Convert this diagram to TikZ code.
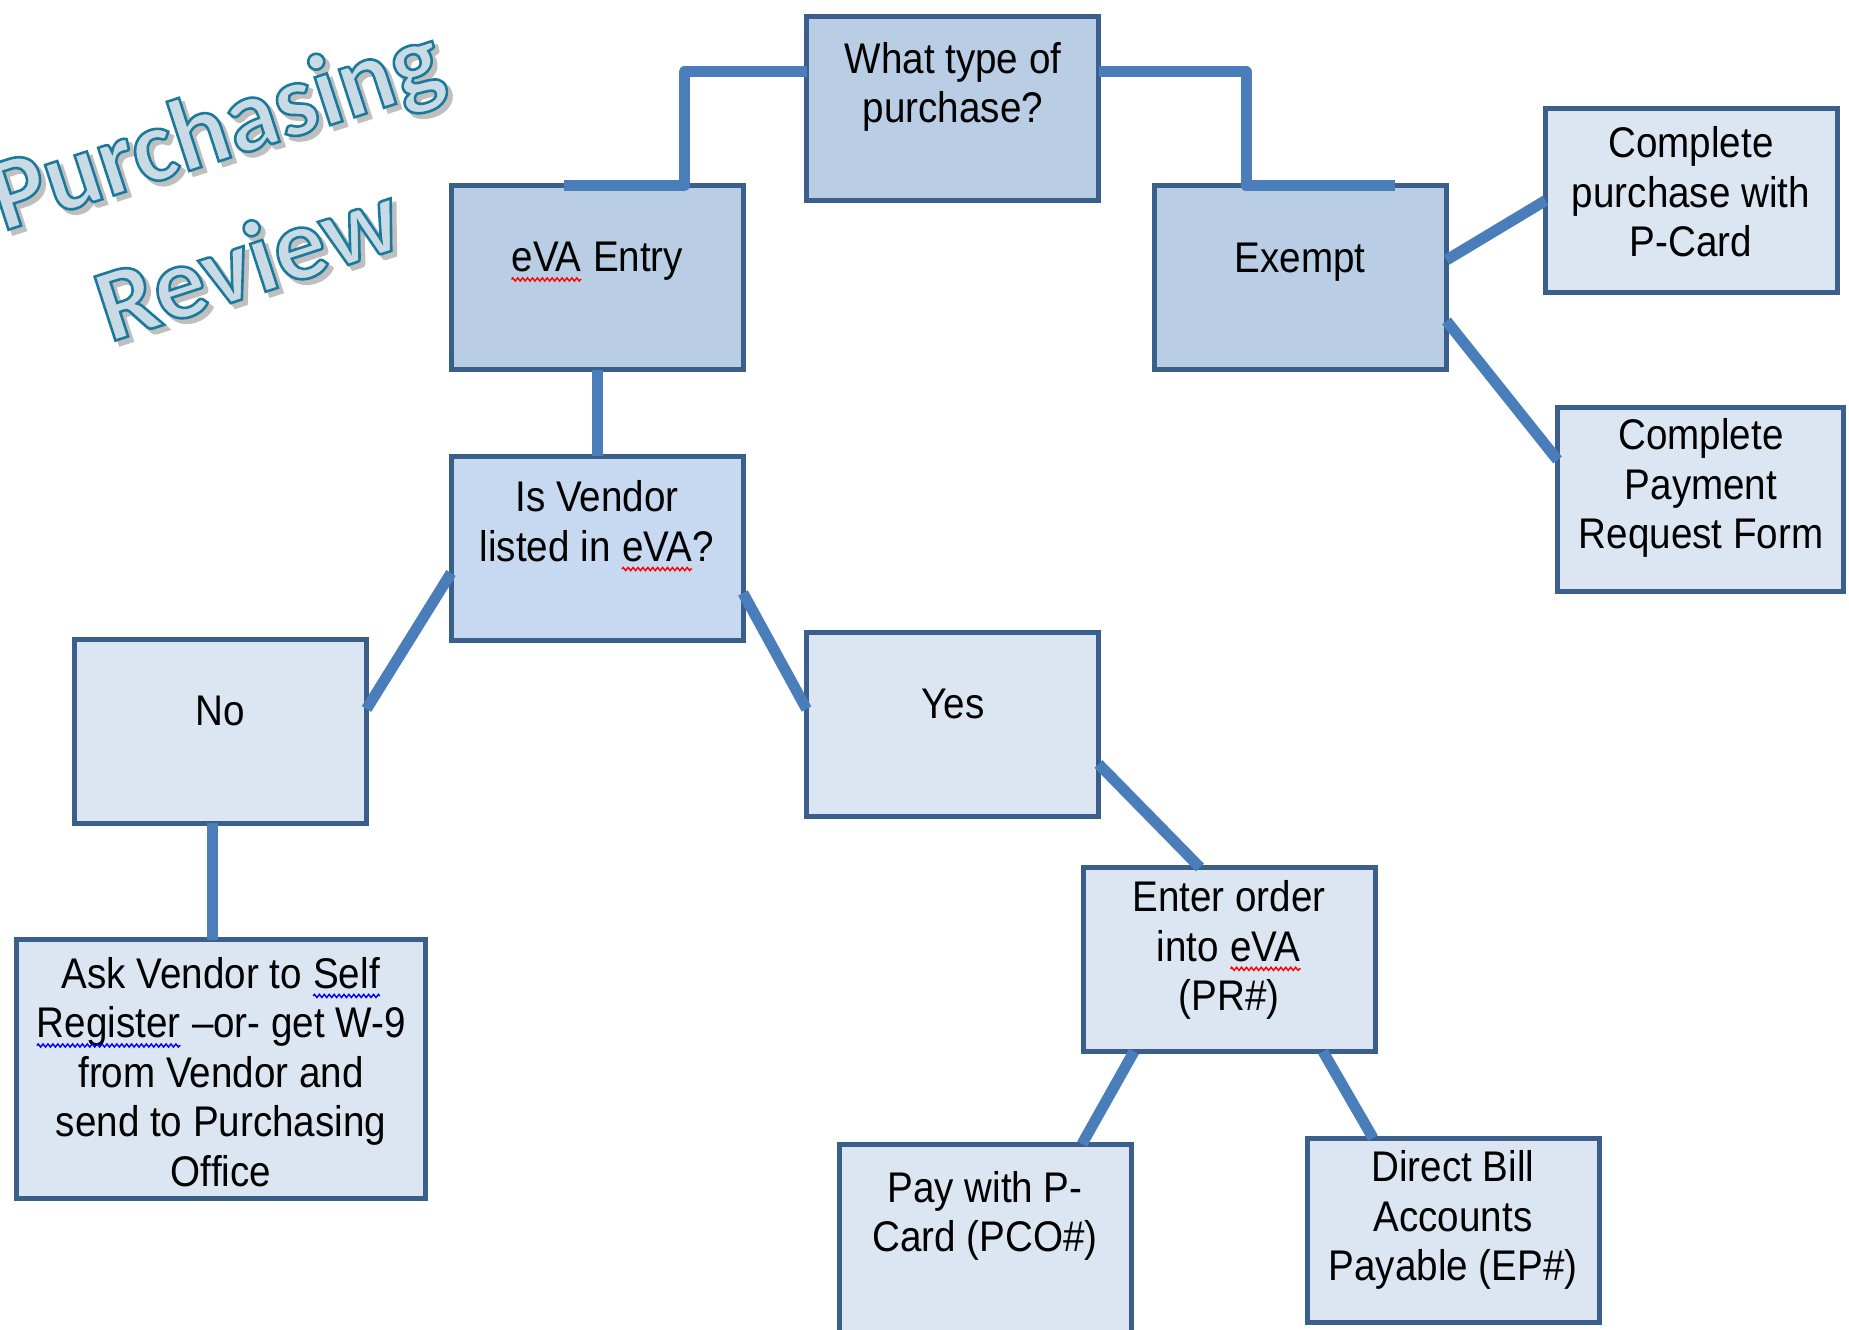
\documentclass[tikz,border=0pt]{standalone}
\usepackage{fontspec}
\setmainfont{Liberation Sans}
\newfontfamily\boxfont[FakeStretch=0.9]{Liberation Sans}
\newfontfamily\titlefont[BoldFeatures={FakeBold=2.5}]{Carlito}
\usetikzlibrary{calc,decorations.pathmorphing}
\definecolor{bordc}{HTML}{3A5F8B}
\definecolor{filldark}{HTML}{B9CDE5}
\definecolor{fillmid}{HTML}{C6D9F0}
\definecolor{filllight}{HTML}{DCE6F2}
\definecolor{connc}{HTML}{4A7EBB}
\definecolor{titlefill}{HTML}{CADAE4}
\definecolor{titleline}{HTML}{1B7A9C}
\newcommand\wv[2]{\tikz[baseline=(wvn.base)]{\node[inner sep=0pt,outer sep=0pt] (wvn) {#2};\draw[#1, line width=0.4pt, decorate, decoration={zigzag, segment length=1.4pt, amplitude=0.45pt}] ([yshift=-2.2pt]wvn.base west) -- ([yshift=-2.2pt]wvn.base east);}}
\newcommand\tstroke{\special{pdf:literal direct 0.106 0.478 0.612 RG}}
\begin{document}
\begin{tikzpicture}[x=0.1mm, y=-0.1mm,
  box/.style={draw=bordc, line width=0.5mm, rectangle, outer sep=0pt, inner sep=0pt, minimum width=29.2mm, minimum height=18.4mm},
  txt/.style={font=\boxfont\fontsize{12.2}{14.1}\selectfont, align=center, inner sep=0pt, text=black},
  conn/.style={draw=connc, line width=1.1mm, line cap=butt, line join=round},
  ttl/.style={font=\titlefont\bfseries\fontsize{29.5}{31}\selectfont, rotate=18, inner sep=0pt}]
\useasboundingbox (0,0) rectangle (1849,1330);
\clip (0,0) rectangle (1849,1330);

% title
\node[ttl, text=black!25] (tps) at ($(217,133)+(1.3pt,-1.3pt)$) {Purchasing};
\node[ttl, text=titlefill] (tp) at (217,133) {\tstroke Purchasing};
\node[ttl, text=black!25] (trs) at ($(247,260)+(1.3pt,-1.3pt)$) {Review};
\node[ttl, text=titlefill] (tr) at (247,260) {\tstroke Review};

% boxes
\node[box, fill=filldark] (wt) at (952.5,108.5) {};
\node[box, fill=filldark] (eva) at (597,278) {};
\node[box, fill=filldark] (ex) at (1300.5,278) {};
\node[box, fill=filllight] (c1) at (1691.5,200.5) {};
\node[box, fill=filllight, minimum width=28.6mm] (c2) at (1700.5,499) {};
\node[box, fill=fillmid] (isv) at (597,548) {};
\node[box, fill=filllight] (no) at (220.5,731) {};
\node[box, fill=filllight] (yes) at (952.5,724) {};
\node[box, fill=filllight, minimum width=40.9mm, minimum height=25.9mm] (ask) at (221,1069) {};
\node[box, fill=filllight] (enter) at (1229,959.5) {};
\node[box, fill=filllight, minimum height=19.4mm] (pay) at (985.5,1241) {};
\node[box, fill=filllight] (direct) at (1453.5,1230) {};

% connectors
\draw[conn] ($(wt.west)+(0,-36.5)$) -| ($(eva.north)+(87,0)$) -- ($(eva.north)+(-33,0)$);
\draw[conn] ($(wt.east)+(0,-36.5)$) -| ($(ex.north)+(-54.5,0)$) -- ($(ex.north)+(94.5,0)$);
\draw[conn] (eva.south) -- (isv.north);
\draw[conn] ($(ex.east)+(0,-18)$) -- (c1.west);
\draw[conn] ($(ex.east)+(0,43)$) -- ($(c2.west)+(0,-39)$);
\draw[conn] ($(isv.west)+(0,25)$) -- ($(no.east)+(0,-22)$);
\draw[conn] ($(isv.east)+(0,45)$) -- ($(yes.west)+(0,-15)$);
\draw[conn] ($(no.south)+(-8.5,0)$) -- ($(ask.north)+(-9,0)$);
\draw[conn] ($(yes.east)+(0,40)$) -- ($(enter.north)+(-29,0)$);
\draw[conn] ($(enter.south)+(-95,0)$) -- ($(pay.north)+(96.5,0)$);
\draw[conn] ($(enter.south)+(94,0)$) -- ($(direct.north)+(-80.5,0)$);

% texts
\node[txt] (wtt) at (953,87) {What type of\\purchase?};
\node[txt] (evat) at (597,262) {\wv{red}{eVA} Entry};
\node[txt] (ext) at (1300,262) {Exempt};
\node[txt] (c1t) at (1691,192) {Complete\\purchase with\\P-Card};
\node[txt] (c2t) at (1701,488) {Complete\\Payment\\Request Form};
\node[txt] (isvt) at (597,526) {Is Vendor\\listed in \wv{red}{eVA}?};
\node[txt] (not) at (220,711) {No};
\node[txt] (yest) at (953,704) {Yes};
\node[txt] (askt) at (221,1072) {Ask Vendor to \wv{blue}{Self}\\\wv{blue}{Register} –or- get W-9\\from Vendor and\\send to Purchasing\\Office};
\node[txt] (entert) at (1229,950) {Enter order\\into \wv{red}{eVA}\\(PR\#)};
\node[txt] (payt) at (985,1216) {Pay with P-\\Card (PCO\#)};
\node[txt] (directt) at (1453,1220) {Direct Bill\\Accounts\\Payable (EP\#)};
\end{tikzpicture}
\end{document}
